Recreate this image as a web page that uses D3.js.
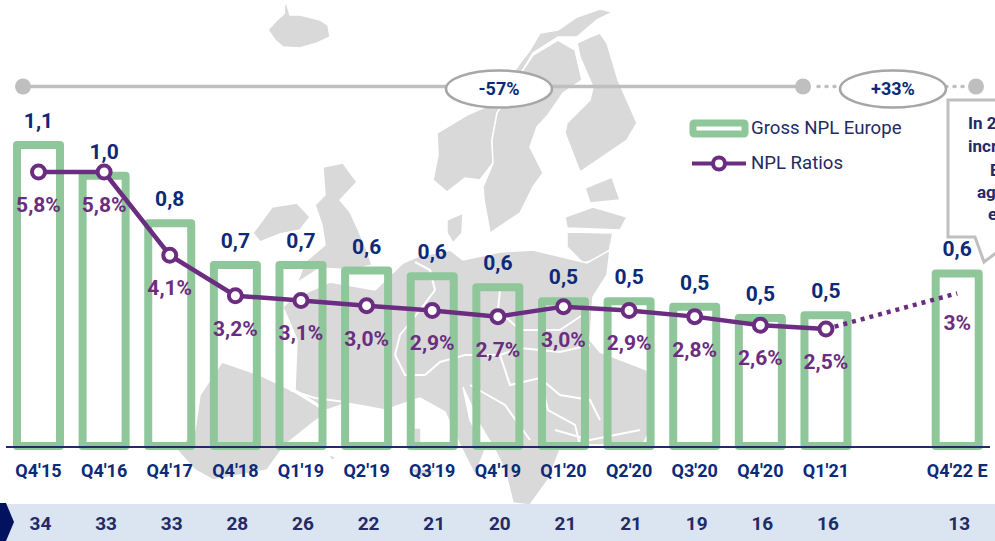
<!DOCTYPE html>
<html><head><meta charset="utf-8">
<script src="https://cdn.jsdelivr.net/npm/d3@7"></script>
<style>html,body{margin:0;padding:0;background:#fff;overflow:hidden}svg{display:block;font-family:Roboto,sans-serif}</style>
</head><body><svg id="c" width="995" height="541"></svg>
<script>
const categories=["Q4'15","Q4'16","Q4'17","Q4'18","Q1'19","Q2'19","Q3'19","Q4'19","Q1'20","Q2'20","Q3'20","Q4'20","Q1'21","Q4'22 E"];
const grossNpl=[1.10,0.99,0.82,0.67,0.67,0.65,0.63,0.59,0.54,0.54,0.52,0.48,0.49,0.64];
const grossLabels=["1,1","1,0","0,8","0,7","0,7","0,6","0,6","0,6","0,5","0,5","0,5","0,5","0,5","0,6"];
const nplRatios=[5.8,5.8,4.05,3.2,3.1,2.99,2.89,2.76,2.97,2.89,2.76,2.58,2.5];
const ratioLabels=["5,8%","5,8%","4,1%","3,2%","3,1%","3,0%","2,9%","2,7%","3,0%","2,9%","2,8%","2,6%","2,5%","3%"];
const forecastRatio=3.25;
const bottomRow=[34,33,33,28,26,22,21,20,21,21,19,16,16,13];
const calloutLines=[["In 2",968,123],["incr",968,146],["E",990,170],["ag",977,192],["e",988,214]];
const mapLand=[
 [[285,0],[288,8],[290,15],[300,15],[320,20],[328,25],[330,37],[317,43],[300,48],[283,47],[275,40],[268,30],[277,20],[284,14]],
 [[613,12],[600,9],[577,17],[558,30],[540,33],[530,50],[520,63],[505,85],[490,105],[467,115],[437,133],[438,155],[433,180],[447,192],[465,178],[480,180],[493,163],[492,140],[497,113],[523,70],[533,53],[558,37],[577,37],[597,20]],
 [[533,55],[558,40],[575,50],[582,80],[563,93],[548,115],[537,127],[530,147],[543,173],[533,187],[520,213],[490,233],[484,200],[483,187],[493,163],[492,140],[497,113],[523,70]],
 [[607,43],[618,80],[637,123],[627,140],[580,172],[565,133],[567,123],[590,100],[593,87],[580,57],[577,43],[590,37],[600,33]],
 [[585,188],[612,177],[620,200],[590,203]],
 [[565,217],[593,207],[627,217],[620,230],[567,228]],
 [[567,232],[613,233],[608,257],[583,263],[567,247]],
 [[253,233],[272,207],[297,203],[310,217],[300,230],[280,234],[260,242]],
 [[323,167],[343,163],[357,182],[340,200],[350,212],[357,227],[367,250],[372,265],[352,270],[320,268],[297,283],[305,262],[325,245],[322,225],[315,205],[325,195]],
 [[447,220],[463,213],[462,233],[453,243],[447,233]],
 [[290,300],[330,282],[375,290],[403,263],[417,257],[450,250],[463,260],[500,252],[533,250],[587,263],[610,250],[607,275],[593,297],[590,340],[600,352],[647,370],[655,420],[640,450],[610,445],[590,445],[560,450],[548,480],[530,505],[513,503],[505,470],[495,450],[480,425],[463,387],[470,420],[485,450],[475,475],[460,445],[445,412],[420,398],[385,410],[347,403],[327,410],[295,390],[297,340],[283,307]],
 [[200,395],[222,362],[260,375],[295,392],[327,412],[310,425],[285,445],[267,470],[213,480],[195,470],[177,450],[195,430]],
 [[414,428],[421,428],[421,445],[414,445]],
 [[328,454],[336,457],[332,461]],
 [[408,468],[440,470],[420,478]]
];
const mapBorders=[
 [[290,390],[315,398],[345,402]],
 [[395,355],[405,375],[425,375],[440,362],[465,355],[500,355],[520,348],[560,352],[590,345]],
 [[395,355],[400,335],[420,310],[435,290],[430,270],[415,262]],
 [[500,355],[510,385],[540,378],[560,395],[590,400],[600,420]],
 [[540,378],[548,410],[575,425],[580,445]],
 [[500,290],[498,310],[520,330],[560,330],[590,310]],
 [[470,385],[505,405],[530,440]],
 [[555,430],[590,440],[640,430]]
];
const purple="#6b2d80",navy="#0b2a78",dark="#232a66",green="#8fc79a",grey="#bfbfbf";
const svg=d3.select("#c");
const slots=[...categories.slice(0,13),"gap",categories[13]];
const x=d3.scalePoint().domain(slots).range([38.5,957.2]);
const yG=d3.scaleLinear().domain([0,1.1]).range([448,141]);
const yR=d3.scaleLinear().domain([2.5,5.8]).range([329,172]);
const line=d3.line();
svg.append("g").selectAll("path").data(mapLand).join("path")
 .attr("d",d=>line(d)+"Z").attr("fill","#d9d9d9").attr("stroke","#fff").attr("stroke-width",1.5);
svg.append("g").selectAll("path").data(mapBorders).join("path")
 .attr("d",line).attr("fill","none").attr("stroke","#fff").attr("stroke-width",2);
svg.append("line").attr("x1",23).attr("x2",803).attr("y1",86.5).attr("y2",86.5).attr("stroke",grey).attr("stroke-width",3.5);
svg.append("line").attr("x1",818).attr("x2",966).attr("y1",86.5).attr("y2",86.5).attr("stroke",grey).attr("stroke-width",3.5).attr("stroke-dasharray","1 7").attr("stroke-linecap","round");
svg.selectAll(".dot").data([23,803,976]).join("circle").attr("cx",d=>d).attr("cy",86.5).attr("r",8).attr("fill",grey);
[[499,"-57%"],[893,"+33%"]].forEach(([cx,t])=>{
 svg.append("ellipse").attr("cx",cx).attr("cy",89).attr("rx",53).attr("ry",18.5).attr("fill","#fff").attr("stroke","#a6a6a6").attr("stroke-width",2.5);
 svg.append("text").attr("x",cx).attr("y",95).attr("text-anchor","middle").attr("font-size",18).attr("font-weight",700).attr("fill",navy).text(t);
});
svg.append("path").attr("d","M1000,100H948V237H975L984,262L1000,250Z").attr("fill","#fff").attr("stroke",grey).attr("stroke-width",3);
svg.selectAll(".co").data(calloutLines).join("text").attr("x",d=>d[1]).attr("y",d=>d[2]+6).attr("font-size",17).attr("font-weight",700).attr("fill",dark).text(d=>d[0]);
const bw=43,sw=8;
svg.append("g").selectAll("rect").data(categories).join("rect")
 .attr("x",d=>x(d)-bw/2).attr("width",bw)
 .attr("y",(d,i)=>yG(grossNpl[i])+sw/2).attr("height",(d,i)=>446-yG(grossNpl[i])-sw/2)
 .attr("fill","none").attr("stroke",green).attr("stroke-width",sw).attr("stroke-linejoin","round");
svg.append("line").attr("x1",6).attr("x2",990).attr("y1",447).attr("y2",447).attr("stroke",dark).attr("stroke-width",2);
svg.append("g").selectAll("text").data(categories).join("text")
 .attr("x",d=>x(d)).attr("y",(d,i)=>yG(grossNpl[i])-13).attr("text-anchor","middle")
 .attr("font-size",21).attr("font-weight",700).attr("fill",navy).text((d,i)=>grossLabels[i]);
const pts=categories.slice(0,13).map((c,i)=>[x(c),yR(nplRatios[i])]);
const last=pts[12], fc=[x(categories[13]),yR(forecastRatio)];
svg.append("path").attr("d",line([last,fc])).attr("fill","none").attr("stroke",purple).attr("stroke-width",4.5).attr("stroke-dasharray","4 5");
svg.append("path").attr("d",line(pts)).attr("fill","none").attr("stroke",purple).attr("stroke-width",4.5);
svg.append("g").selectAll("circle").data(pts).join("circle").attr("cx",d=>d[0]).attr("cy",d=>d[1]).attr("r",6.5)
 .attr("fill","#fff").attr("stroke",purple).attr("stroke-width",4);
svg.append("g").selectAll("text").data(ratioLabels).join("text")
 .attr("x",(d,i)=>i<13?pts[i][0]:fc[0]).attr("y",(d,i)=>(i<13?pts[i][1]+33:fc[1]+30)+7).attr("text-anchor","middle")
 .attr("font-size",21).attr("font-weight",700).attr("fill",purple).text(d=>d);
svg.append("g").selectAll("text").data(categories).join("text")
 .attr("x",d=>x(d)).attr("y",477).attr("text-anchor","middle").attr("font-size",18).attr("font-weight",700).attr("fill",navy).text(d=>d);
svg.append("rect").attr("x",0).attr("y",504).attr("width",995).attr("height",37).attr("fill","#dbe4f1");
svg.append("path").attr("d","M0,503H6L14,522L6,541H0Z").attr("fill","#02125f");
svg.append("g").selectAll("text").data(categories).join("text")
 .attr("x",d=>x(d)+2).attr("y",530).attr("text-anchor","middle").attr("font-size",19).attr("font-weight",700).attr("fill",dark).text((d,i)=>bottomRow[i]);
svg.append("rect").attr("x",693).attr("y",123).attr("width",52).attr("height",11).attr("rx",1).attr("fill","#fff").attr("stroke",green).attr("stroke-width",7).attr("stroke-linejoin","round");
svg.append("line").attr("x1",692).attr("x2",746).attr("y1",163.5).attr("y2",163.5).attr("stroke",purple).attr("stroke-width",4);
svg.append("circle").attr("cx",719).attr("cy",163.5).attr("r",6).attr("fill","#fff").attr("stroke",purple).attr("stroke-width",4);
[["Gross NPL Europe",134],["NPL Ratios",169]].forEach(([t,y])=>svg.append("text").attr("x",751).attr("y",y).attr("font-size",18.6).attr("fill",dark).text(t));
</script></body></html>
